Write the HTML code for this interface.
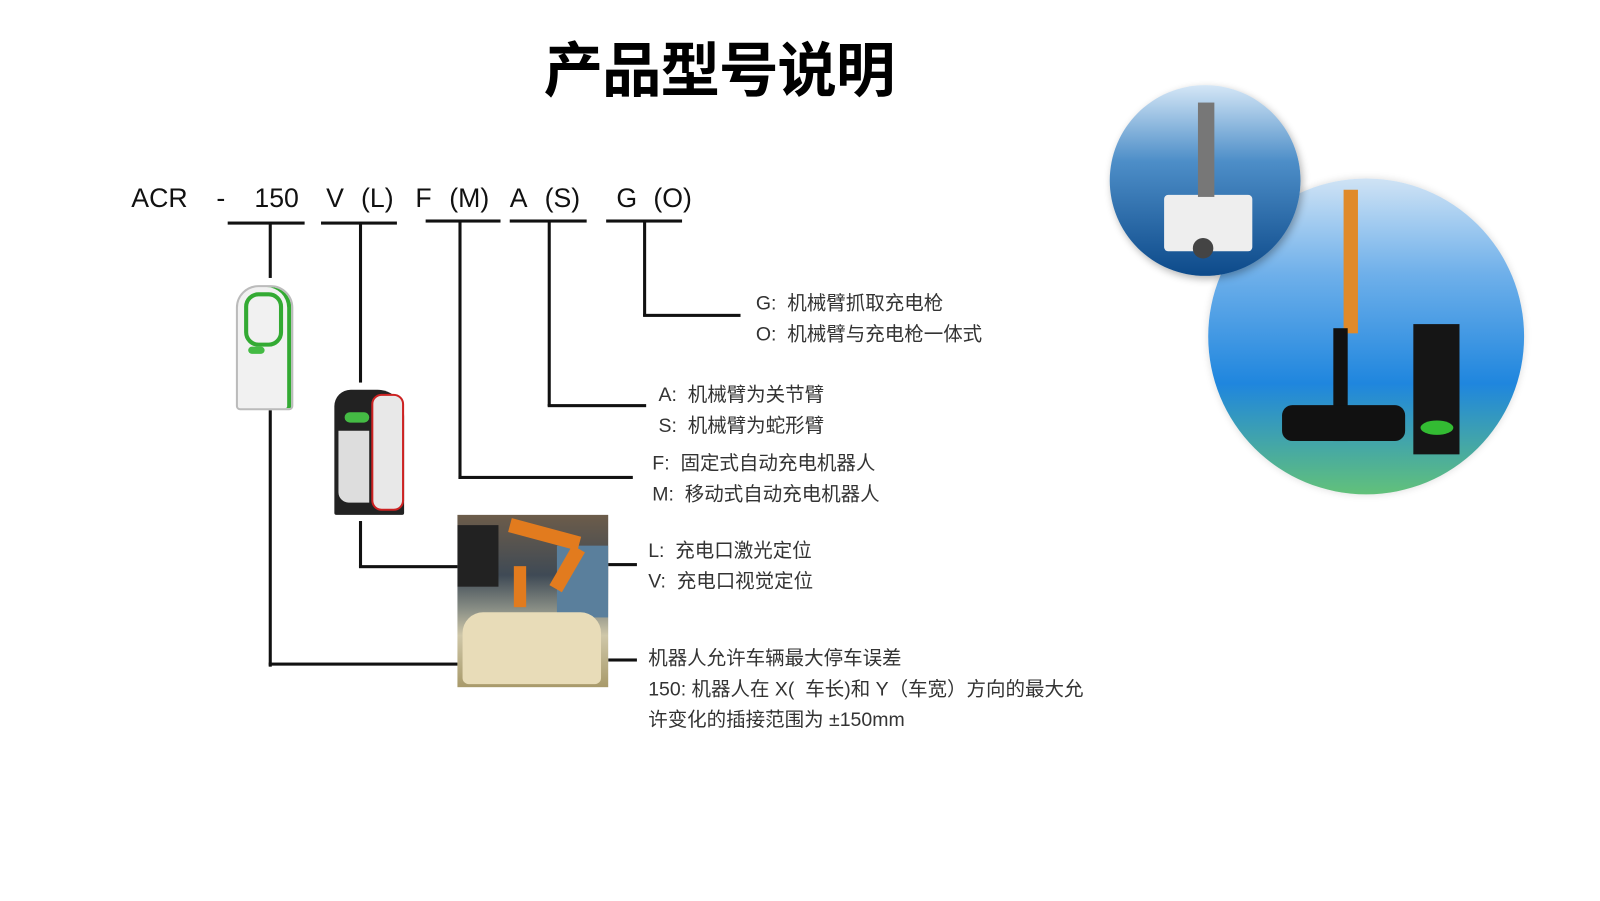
<!DOCTYPE html>
<html><head><meta charset="utf-8"><style>
html,body{margin:0;padding:0;background:#fff;width:1600px;height:900px;overflow:hidden}
#w{position:absolute;left:0;top:0;width:1560px;height:878px;transform:scale(1.02564);transform-origin:0 0;font-family:"Liberation Sans","Noto Sans CJK SC",sans-serif}
.t{position:absolute;white-space:nowrap}
.m{position:absolute;font-size:26px;color:#111;top:178px}
.d{position:absolute;font-size:19px;color:#333;white-space:nowrap;font-family:"Liberation Sans","Noto Sans CJK SC",sans-serif}
.l{position:absolute;background:#111}
</style></head><body><div id="w">
<div class="t" style="left:530px;top:22px;font-size:58px;font-weight:bold;font-family:'Noto Sans CJK SC',sans-serif;color:#000;letter-spacing:-1px">产品型号说明</div>

<div class="m" style="left:128px">ACR</div>
<div class="m" style="left:211px">-</div>
<div class="m" style="left:248px">150</div>
<div class="m" style="left:318px">V</div>
<div class="m" style="left:352px">(L)</div>
<div class="m" style="left:405px">F</div>
<div class="m" style="left:438px">(M)</div>
<div class="m" style="left:497px">A</div>
<div class="m" style="left:531px">(S)</div>
<div class="m" style="left:601px">G</div>
<div class="m" style="left:637px">(O)</div>

<div class="l" style="left:222px;top:216px;width:75px;height:3px"></div>
<div class="l" style="left:313px;top:216px;width:74px;height:3px"></div>
<div class="l" style="left:415px;top:214px;width:73px;height:3px"></div>
<div class="l" style="left:497px;top:214px;width:75px;height:3px"></div>
<div class="l" style="left:591px;top:214px;width:74px;height:3px"></div>
<div class="l" style="left:262px;top:217px;width:3px;height:54px"></div>
<div class="l" style="left:262px;top:400px;width:3px;height:250px"></div>
<div class="l" style="left:262px;top:646px;width:184px;height:3px"></div>
<div class="l" style="left:350px;top:217px;width:3px;height:156px"></div>
<div class="l" style="left:350px;top:508px;width:3px;height:45px"></div>
<div class="l" style="left:350px;top:551px;width:96px;height:3px"></div>
<div class="l" style="left:447px;top:215px;width:3px;height:252px"></div>
<div class="l" style="left:447px;top:464px;width:170px;height:3px"></div>
<div class="l" style="left:534px;top:215px;width:3px;height:181px"></div>
<div class="l" style="left:534px;top:394px;width:96px;height:3px"></div>
<div class="l" style="left:627px;top:215px;width:3px;height:93px"></div>
<div class="l" style="left:627px;top:306px;width:95px;height:3px"></div>
<div class="l" style="left:593px;top:549px;width:28px;height:3px"></div>
<div class="l" style="left:593px;top:642px;width:28px;height:3px"></div>

<div class="d" style="left:737px;top:281px">G:&nbsp; 机械臂抓取充电枪</div>
<div class="d" style="left:737px;top:311px">O:&nbsp; 机械臂与充电枪一体式</div>
<div class="d" style="left:642px;top:370px">A:&nbsp; 机械臂为关节臂</div>
<div class="d" style="left:642px;top:400px">S:&nbsp; 机械臂为蛇形臂</div>
<div class="d" style="left:636px;top:437px">F:&nbsp; 固定式自动充电机器人</div>
<div class="d" style="left:636px;top:467px">M:&nbsp; 移动式自动充电机器人</div>
<div class="d" style="left:632px;top:522px">L:&nbsp; 充电口激光定位</div>
<div class="d" style="left:632px;top:552px">V:&nbsp; 充电口视觉定位</div>
<div class="d" style="left:632px;top:627px">机器人允许车辆最大停车误差</div>
<div class="d" style="left:632px;top:657px">150: 机器人在 X(&nbsp; 车长)和 Y（车宽）方向的最大允</div>
<div class="d" style="left:632px;top:687px">许变化的插接范围为 ±150mm</div>

<div style="position:absolute;left:230px;top:278px;width:52px;height:118px;background:#f1f1f1;border:2px solid #bbb;border-radius:22px 22px 4px 4px;box-shadow:inset -4px 0 0 #3a3"></div>
<div style="position:absolute;left:238px;top:285px;width:30px;height:45px;border:4px solid #3a3;border-radius:14px"></div>
<div style="position:absolute;left:242px;top:338px;width:16px;height:7px;background:#4b4;border-radius:4px"></div>
<div style="position:absolute;left:326px;top:380px;width:68px;height:122px;background:#222;border-radius:16px 26px 2px 2px"></div>
<div style="position:absolute;left:362px;top:384px;width:28px;height:110px;background:#e8e8e8;border:2px solid #c22;border-radius:10px"></div>
<div style="position:absolute;left:336px;top:402px;width:24px;height:10px;background:#4b4;border-radius:5px"></div>
<div style="position:absolute;left:330px;top:420px;width:30px;height:70px;background:#ddd;border-radius:0 0 0 10px"></div>
<div style="position:absolute;left:446px;top:502px;width:147px;height:168px;background:linear-gradient(180deg,#6c5c4a 0%,#3f4a55 35%,#8a8f86 55%,#cfc7a8 70%,#a89a6a 100%);overflow:hidden">
 <div style="position:absolute;left:0;top:10px;width:40px;height:60px;background:#222"></div>
 <div style="position:absolute;right:0;top:30px;width:50px;height:70px;background:#5a7f9c"></div>
 <div style="position:absolute;left:50px;top:12px;width:70px;height:14px;background:#e27b1e;transform:rotate(15deg)"></div>
 <div style="position:absolute;left:100px;top:30px;width:14px;height:45px;background:#e27b1e;transform:rotate(30deg)"></div>
 <div style="position:absolute;left:55px;top:50px;width:12px;height:40px;background:#e27b1e"></div>
 <div style="position:absolute;left:5px;top:95px;width:135px;height:70px;background:#e8dcb8;border-radius:20px 20px 6px 6px"></div>
</div>
<div style="position:absolute;left:1178px;top:174px;width:308px;height:308px;border-radius:50%;background:linear-gradient(180deg,#cfe3f5 0%,#6fb0ea 30%,#1f86de 65%,#62c17a 100%);box-shadow:0 0 8px rgba(0,0,0,.15)"></div>
<div style="position:absolute;left:1082px;top:83px;width:186px;height:186px;border-radius:50%;background:linear-gradient(180deg,#d4e6f6 0%,#4d8ec8 40%,#0d4a8a 100%);box-shadow:2px 3px 8px rgba(0,0,0,.3)"></div>
<div style="position:absolute;left:1135px;top:190px;width:86px;height:55px;background:#eee;border-radius:4px"></div>
<div style="position:absolute;left:1168px;top:100px;width:16px;height:92px;background:#777"></div>
<div style="position:absolute;left:1163px;top:232px;width:20px;height:20px;border-radius:50%;background:#444"></div>
<div style="position:absolute;left:1310px;top:185px;width:14px;height:140px;background:#e08a2a"></div>
<div style="position:absolute;left:1300px;top:320px;width:14px;height:110px;background:#111"></div>
<div style="position:absolute;left:1250px;top:395px;width:120px;height:35px;background:#111;border-radius:10px"></div>
<div style="position:absolute;left:1378px;top:316px;width:45px;height:127px;background:#151515"></div>
<div style="position:absolute;left:1385px;top:410px;width:32px;height:14px;border-radius:50%;background:#3b3"></div>
</div></body></html>
